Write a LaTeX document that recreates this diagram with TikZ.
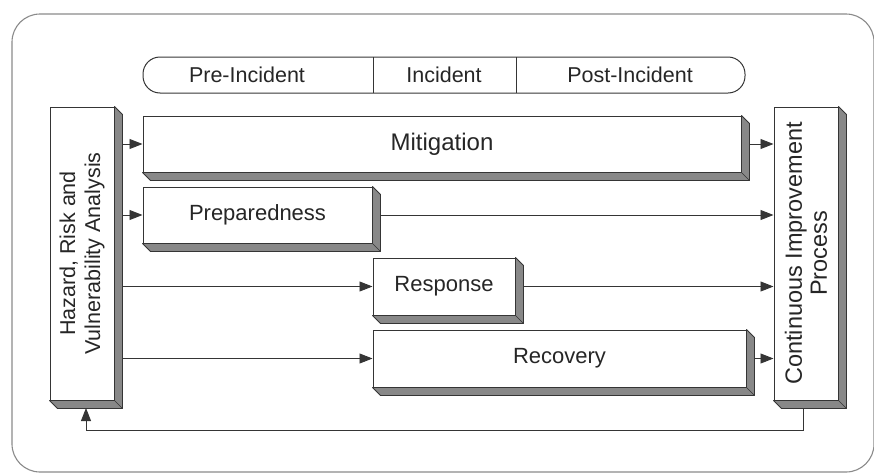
\documentclass[tikz,border=0pt]{standalone}
\usepackage{fontspec}
\setmainfont{Liberation Sans}
\usetikzlibrary{calc,arrows.meta}
\definecolor{lnc}{HTML}{353535}
\definecolor{txc}{HTML}{262626}
\definecolor{shd}{HTML}{888888}
\definecolor{frm}{HTML}{8A8A8A}
\tikzset{
  face/.style={draw=lnc, line width=1pt, fill=white, inner sep=0pt, text=txc, align=center},
  conn/.style={draw=lnc, line width=0.9pt, -{Triangle[length=13pt,width=10pt]}},
  txt/.style={font=\fontsize{21.5}{25}\selectfont, text=txc}
}
\newcommand{\extrude}[1]{%
  \filldraw[fill=shd, draw=lnc, line width=0.8pt, line join=round]
    (#1.north east) -- ++(8,8) -- ($(#1.south east)+(8,8)$) -- ($(#1.south west)+(8,8)$)
    -- (#1.south west) -- (#1.south east) -- cycle;
  \draw[lnc, line width=0.6pt] (#1.south east) -- ++(8,8);
}
\begin{document}
\begin{tikzpicture}[x=1pt,y=-1pt]
\useasboundingbox (0,0) rectangle (874,474);
% outer frame
\draw[frm, line width=1.1pt, rounded corners=28pt] (12,14) rectangle (874,472);
% timeline
\draw[lnc, line width=1pt, rounded corners=17pt] (143,57) rectangle (745,93);
\draw[lnc, line width=1pt] (373,57) -- (373,93);
\draw[lnc, line width=1pt] (516,57) -- (516,93);
\node[txt] (pre) at (247,75) {Pre-Incident};
\node[txt] (inc) at (444,75) {Incident};
\node[txt] (post) at (630,75) {Post-Incident};
% boxes
\node[face, minimum width=64pt, minimum height=293pt] (hrva) at (82,253.5) {};
\extrude{hrva}
\node[face, minimum width=598pt, minimum height=56pt, font=\fontsize{24}{28}\selectfont] (mit) at (442,144) {Mitigation};
\extrude{mit}
\node[face, minimum width=229pt, minimum height=56pt, font=\fontsize{22}{25}\selectfont] (prep) at (257.5,215) {Preparedness};
\extrude{prep}
\node[face, minimum width=142pt, minimum height=57pt, font=\fontsize{22}{25}\selectfont] (resp) at (444,286.5) {Response};
\extrude{resp}
\node[face, minimum width=373pt, minimum height=57pt, font=\fontsize{22}{25}\selectfont] (rec) at (559.5,358.5) {Recovery};
\extrude{rec}
\node[face, minimum width=64pt, minimum height=293pt] (cip) at (806,253.5) {};
\extrude{cip}
% rotated texts
\node[rotate=90, text=txc, align=center, font=\fontsize{21.5}{25}\selectfont] (hrvat) at (hrva) {Hazard, Risk and\\Vulnerability Analysis};
\node[rotate=90, text=txc, align=center, font=\fontsize{23.5}{25}\selectfont] (cipt) at (cip) {Continuous Improvement\\Process};
% left connectors
\coordinate (hr1) at ($(hrva.east)+(8,0)$);
\draw[conn] (hr1 |- mit.west) -- (mit.west);
\draw[conn] (hr1 |- prep.west) -- (prep.west);
\draw[conn] (hr1 |- resp.west) -- (resp.west);
\draw[conn] (hr1 |- rec.west) -- (rec.west);
% right connectors
\draw[conn] ($(mit.east)+(8,0)$) -- (cip.west |- mit.east);
\draw[conn] ($(prep.east)+(8,0)$) -- (cip.west |- prep.east);
\draw[conn] ($(resp.east)+(8,0)$) -- (cip.west |- resp.east);
\draw[conn] ($(rec.east)+(8,0)$) -- (cip.west |- rec.east);
% feedback
\coordinate (fb1) at (803,430);
\coordinate (fb2) at (86,430);
\draw[conn] (803,408) -- (fb1) -- (fb2) -- (86,408);
\end{tikzpicture}
\end{document}
